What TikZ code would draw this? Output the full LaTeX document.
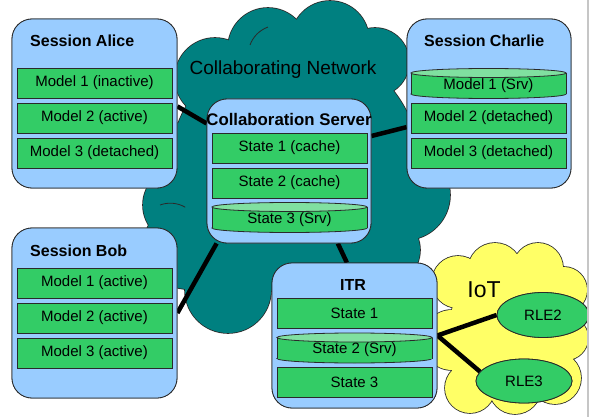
\documentclass[tikz,border=0pt]{standalone}
\usepackage{fontspec}
\setmainfont{Liberation Sans}
\usetikzlibrary{shapes.geometric}
\definecolor{boxblue}{HTML}{99CCFF}
\definecolor{rowgreen}{HTML}{33CC66}
\definecolor{topgreen}{HTML}{80E0A0}
\definecolor{netteal}{HTML}{008080}
\definecolor{iotyellow}{HTML}{FFFF66}
\definecolor{edgecol}{HTML}{2A2A2A}
\newcommand\cylrow[4]{%
  \draw[edgecol, fill=rowgreen, line width=.8pt] (#2,#3+10.5) ellipse[x radius=77.5, y radius=4.5];
  \fill[rowgreen] (#2-77.5,#3-10.5) rectangle (#2+77.5,#3+10.5);
  \draw[edgecol, line width=.8pt] (#2-77.5,#3-10.5) -- (#2-77.5,#3+10.5) (#2+77.5,#3-10.5) -- (#2+77.5,#3+10.5);
  \draw[edgecol, fill=topgreen, line width=.8pt] (#2,#3-10.5) ellipse[x radius=77.5, y radius=4.5];
  \node[rowtext] (#1) at (#2,#3+2) {#4};
}
\newcommand\netpuffs{%
  (215,78) circle[radius=40]
  (268,48) circle[radius=40]
  (330,40) circle[radius=39]
  (375,62) circle[radius=34]
  (405,195) circle[radius=45]
  (385,250) circle[radius=35]
  (325,290) circle[radius=44]
  (228,290) circle[radius=43]
  (188,245) circle[radius=44]
  (181,205) circle[radius=38]
  (182,165) circle[radius=42]
  (295,168) ellipse[x radius=125, y radius=125]}
\newcommand\iotpuffs{%
  (458,282) circle[radius=26]
  (495,270) circle[radius=27]
  (538,268) circle[radius=25]
  (564,290) circle[radius=23]
  (566,338) circle[radius=22]
  (555,378) circle[radius=26]
  (515,388) circle[radius=26]
  (470,388) circle[radius=25]
  (452,340) circle[radius=30]
  (508,330) ellipse[x radius=60, y radius=58]}
\begin{document}
\begin{tikzpicture}[x=1pt,y=-1pt,
  session/.style={draw=edgecol, fill=boxblue, rounded corners=20pt, line width=0.8pt, inner sep=0pt},
  rowtext/.style={inner sep=0pt, font=\fontsize{15}{17}\selectfont},
  row/.style={rowtext, draw=edgecol, fill=rowgreen, line width=0.8pt, minimum width=155pt, minimum height=30pt},
  title/.style={inner sep=0pt, font=\bfseries\fontsize{16}{18}\selectfont},
  link/.style={line width=4.5pt, black},
  rle/.style={ellipse, draw=edgecol, fill=rowgreen, line width=0.8pt, inner sep=0pt, font=\fontsize{15}{17}\selectfont}]
\useasboundingbox (0,0) rectangle (589,417);
\fill[white] (0,0) rectangle (589,417);
\clip (0,0) rectangle (589,417);

% clouds: outline pass, then fill pass
\draw[edgecol, line width=1.6pt, fill=netteal] \netpuffs;
\fill[netteal] \netpuffs;
\draw[edgecol, line width=0.8pt] (250,45) arc[start angle=200, end angle=250, radius=30];
\draw[edgecol, line width=0.8pt] (160,205) arc[start angle=250, end angle=300, radius=30];
\draw[edgecol, line width=1.6pt, fill=iotyellow] \iotpuffs;
\fill[iotyellow] \iotpuffs;

\node[anchor=base, inner sep=0pt, font=\fontsize{19}{21}\selectfont] (netlabel) at (283,75) {Collaborating Network};
\node[anchor=base, inner sep=0pt, font=\fontsize{23}{25}\selectfont] (iotlabel) at (484,297) {IoT};

% boxes
\node[session, minimum width=165pt, minimum height=169pt] (alice) at (94.5,103.5) {};
\node[session, minimum width=164pt, minimum height=169pt] (charlie) at (489,103.5) {};
\node[session, minimum width=165pt, minimum height=170pt] (bob) at (94.5,313) {};
\node[session, minimum width=164pt, minimum height=144pt] (server) at (289,171) {};
\node[session, minimum width=165pt, minimum height=145pt] (itr) at (354.5,335.5) {};
\node[rle, minimum width=92pt, minimum height=45pt] (rle2) at (543,315) {RLE2};
\node[rle, minimum width=96pt, minimum height=44pt] (rle3) at (524,381) {RLE3};

% links
\draw[link] (alice.-2.4) -- (server.150.7);
\draw[link] (server.23.7) -- (charlie.-164);
\draw[link] (server.225) -- (bob.east);
\draw[link] (server.-56.3) -- (itr.96.7);
\draw[link] (itr.east) -- (rle2.west);
\draw[link] (itr.east) -- (rle3.168);

% boxes again, over the link ends
\node[session, minimum width=165pt, minimum height=169pt] (aliceb) at (94.5,103.5) {};
\node[session, minimum width=164pt, minimum height=169pt] (charlieb) at (489,103.5) {};
\node[session, minimum width=165pt, minimum height=170pt] (bobb) at (94.5,313) {};
\node[session, minimum width=164pt, minimum height=144pt] (serverb) at (289,171) {};
\node[session, minimum width=165pt, minimum height=145pt] (itrb) at (354.5,335.5) {};
\node[rle, minimum width=92pt, minimum height=45pt] (rle2b) at (543,315) {RLE2};
\node[rle, minimum width=96pt, minimum height=44pt] (rle3b) at (524,381) {RLE3};

% titles
\node[title, anchor=base west] (alicet) at (30,47) {Session Alice};
\node[title, anchor=base west] (charliet) at (424,47) {Session Charlie};
\node[title, anchor=base west] (bobt) at (30,256) {Session Bob};
\node[title, anchor=base, font=\bfseries\fontsize{16.8}{18}\selectfont] (servert) at (289,126) {Collaboration Server};
\node[title, anchor=base] (itrt) at (353,290) {ITR};

% Alice rows
\node[row] (a1) at (94.5,83) {Model 1 (inactive)};
\node[row] (a2) at (94.5,118) {Model 2 (active)};
\node[row] (a3) at (94.5,153) {Model 3 (detached)};
% Charlie rows
\cylrow{c1}{488.5}{83.5}{Model 1 (Srv)}
\node[row] (c2) at (488.5,118) {Model 2 (detached)};
\node[row] (c3) at (488.5,153) {Model 3 (detached)};
% Bob rows
\node[row] (b1) at (94.5,283) {Model 1 (active)};
\node[row] (b2) at (94.5,318) {Model 2 (active)};
\node[row] (b3) at (94.5,353) {Model 3 (active)};
% Server rows
\node[row] (s1) at (289.5,148) {State 1 (cache)};
\node[row] (s2) at (289.5,183) {State 2 (cache)};
\cylrow{s3}{289.5}{217.5}{State 3 (Srv)}
% ITR rows
\node[row] (i1) at (354.5,313) {State 1};
\cylrow{i2}{354.5}{348}{State 2 (Srv)}
\node[row] (i3) at (354.5,382.5) {State 3};

\draw[gray!45, line width=1.5pt] (588,0) -- (588,417);
\end{tikzpicture}
\end{document}
